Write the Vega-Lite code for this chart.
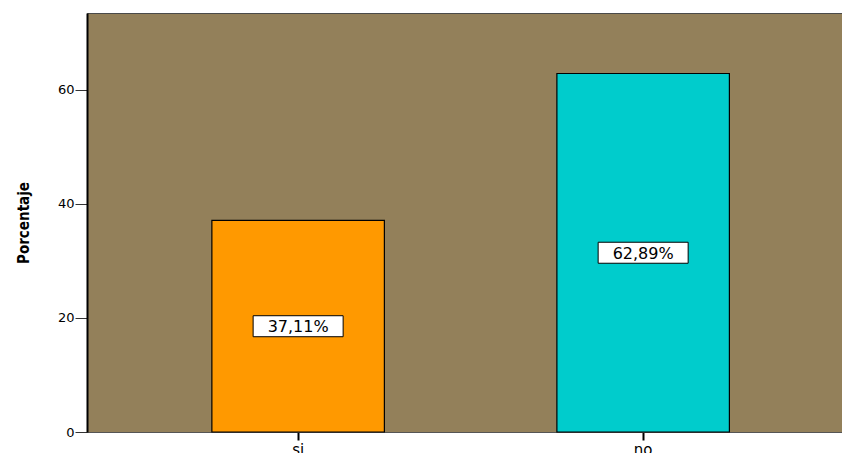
{
  "$schema": "https://vega.github.io/schema/vega-lite/v6.json",
  "width": 760,
  "height": 419,
  "autosize": {"type": "none"},
  "padding": {"left": 87, "top": 13, "right": 0, "bottom": 21},
  "background": "white",
  "config": {
    "view": {"fill": "#93805a", "stroke": "#4a4a4a", "strokeWidth": 1},
    "axis": {"grid": false, "labelColor": "#000", "labelFont": "DejaVu Sans", "titleColor": "#000"}
  },
  "data": {
    "values": [
      {"respuesta": "si", "porcentaje": 37.11, "etiqueta": "37,11%"},
      {"respuesta": "no", "porcentaje": 62.89, "etiqueta": "62,89%"}
    ]
  },
  "encoding": {
    "x": {
      "field": "respuesta",
      "type": "nominal",
      "sort": ["si", "no"],
      "scale": {"paddingInner": 0.5, "paddingOuter": 0.3514, "align": 0.515},
      "axis": {
        "title": null,
        "labelAngle": 0,
        "labelFontSize": 15,
        "labelPadding": 2,
        "tickSize": 8,
        "tickWidth": 2,
        "tickColor": "#000",
        "domainColor": "#555",
        "domainWidth": 1
      }
    }
  },
  "layer": [
    {
      "mark": {"type": "bar", "stroke": "#000", "strokeWidth": 1.2},
      "encoding": {
        "y": {
          "field": "porcentaje",
          "type": "quantitative",
          "scale": {"domain": [0, 73.5], "nice": false},
          "axis": {
            "title": "Porcentaje",
            "titleFont": "DejaVu Sans Condensed",
            "titleFontWeight": "bold",
            "titleFontSize": 15,
            "titleX": -64,
            "titleBaseline": "middle",
            "values": [0, 20, 40, 60],
            "labelFontSize": 13,
            "labelPadding": 1,
            "tickSize": 12,
            "tickWidth": 1,
            "tickColor": "#333",
            "domainColor": "#000",
            "domainWidth": 2
          }
        },
        "color": {
          "field": "respuesta",
          "type": "nominal",
          "scale": {"domain": ["si", "no"], "range": ["#ff9900", "#00cccc"]},
          "legend": null
        }
      }
    },
    {
      "description": "Value labels sit at half bar height: this layer's y scale spans twice the bar domain.",
      "encoding": {
        "y": {
          "field": "porcentaje",
          "type": "quantitative",
          "scale": {"domain": [0, 147], "nice": false},
          "axis": null
        }
      },
      "layer": [
        {
          "mark": {
            "type": "point",
            "shape": "M-1,-0.2333H1V0.2333H-1Z",
            "size": 8100,
            "filled": true,
            "fill": "#ffffff",
            "stroke": "#000",
            "strokeWidth": 1,
            "opacity": 1
          }
        },
        {
          "mark": {
            "type": "text",
            "font": "DejaVu Sans",
            "fontSize": 16,
            "color": "#000",
            "align": "center",
            "baseline": "middle",
            "dy": 1
          },
          "encoding": {"text": {"field": "etiqueta"}}
        }
      ]
    }
  ],
  "resolve": {"scale": {"y": "independent"}}
}
